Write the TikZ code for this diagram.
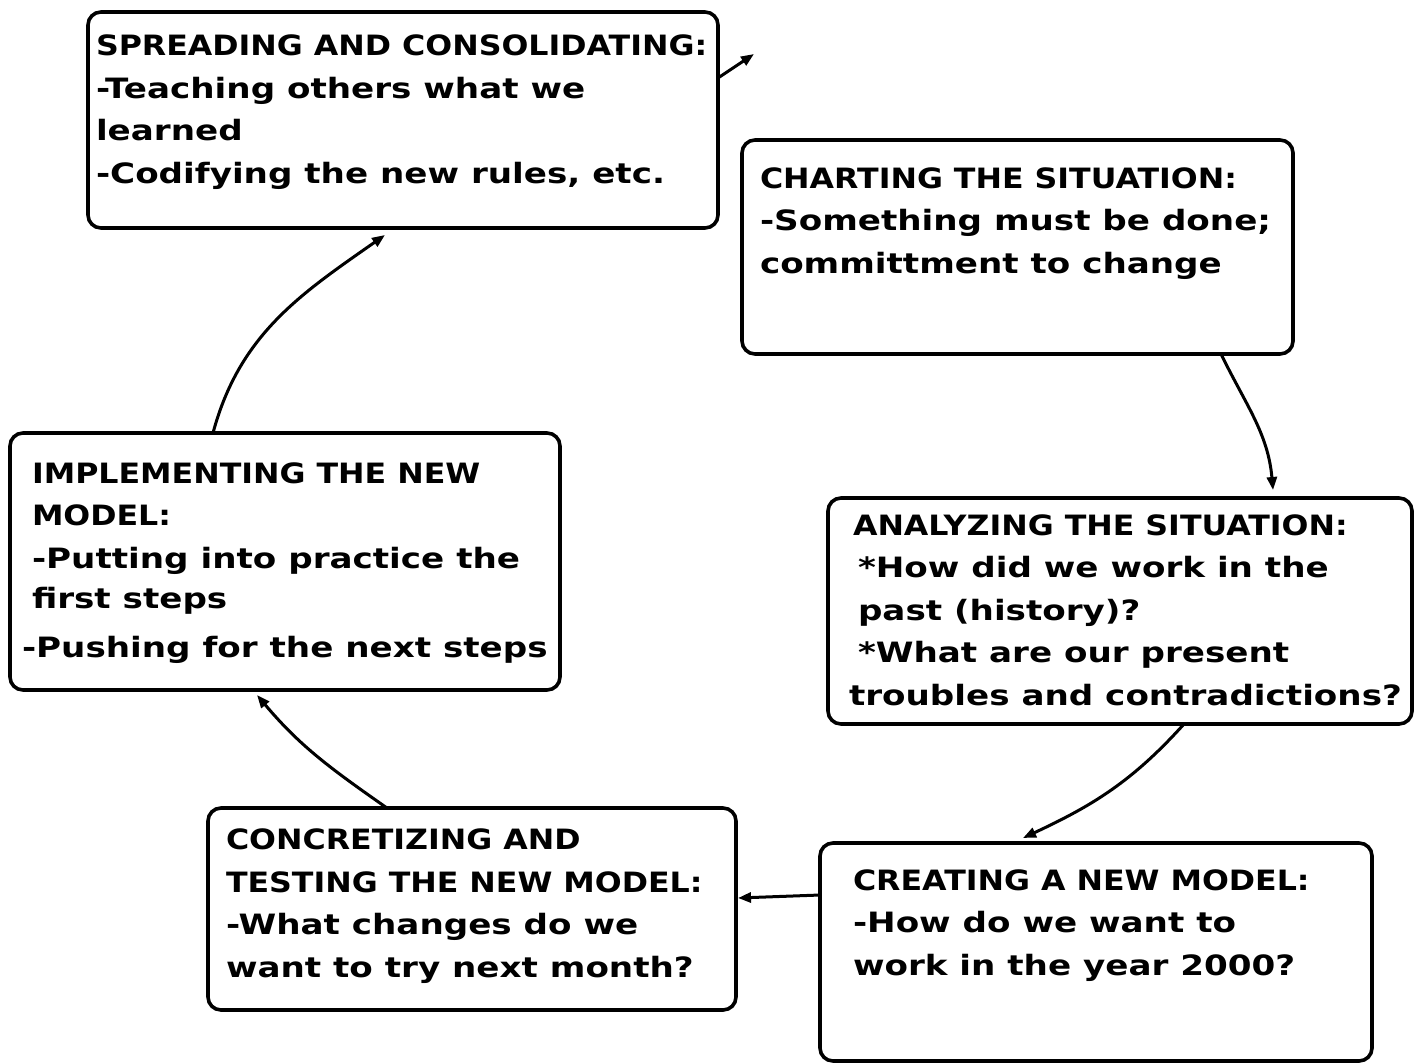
\documentclass[tikz,border=0pt]{standalone}
\usepackage{fontspec}
\setmainfont{DejaVu Sans}[FakeStretch=1.22]
\newfontfamily\capsf{DejaVu Sans}[FakeStretch=1.13]
\usetikzlibrary{arrows.meta}
\begin{document}
\begin{tikzpicture}[x=1pt,y=1pt,
  box/.style={draw=black,line width=3.6pt,rounded corners=13pt,inner sep=0pt,outer sep=0pt,anchor=north west},
  txt/.style={anchor=base west,inner sep=0pt,outer sep=0pt,align=left,
    font={\fontsize{28}{42.5}\selectfont\bfseries}},
  conn/.style={line width=3pt,-{Triangle[length=13pt,width=10pt]}}]
\useasboundingbox (0,0) rectangle (1418,-1063);
\fill[white] (0,0) rectangle (1418,-1063);
% boxes
\node[box,minimum width=630pt,minimum height=216pt] (A) at (88,-12) {};
\node[box,minimum width=551pt,minimum height=214pt] (B) at (742,-140) {};
\node[box,minimum width=584pt,minimum height=226pt] (C) at (828,-498) {};
\node[box,minimum width=552pt,minimum height=218pt] (D) at (820,-843) {};
\node[box,minimum width=528pt,minimum height=202pt] (E) at (208,-808) {};
\node[box,minimum width=550pt,minimum height=257pt] (F) at (10,-433) {};
% texts (anchored at the baseline of the last line)
\node[txt] (At) at (96,-183) {{\capsf\bfseries SPREADING AND CONSOLIDATING:}\\-Teaching others what we\\learned\\-Codifying the new rules, etc.};
\node[txt] (Bt) at (760,-273) {{\capsf\bfseries CHARTING THE SITUATION:}\\-Something must be done;\\committment to change};
\node[txt] (Ct) at (849,-705) {\hspace*{4pt}{\capsf\bfseries ANALYZING THE SITUATION:}\\\hspace*{9pt}*How did we work in the\\\hspace*{9pt}past (history)?\\\hspace*{9pt}*What are our present\\troubles and contradictions?};
\node[txt] (Dt) at (853,-975) {{\capsf\bfseries CREATING A NEW MODEL:}\\-How do we want to\\work in the year 2000?};
\node[txt] (Et) at (226,-977) {{\capsf\bfseries CONCRETIZING AND}\\{\capsf\bfseries TESTING THE NEW MODEL:}\\-What changes do we\\want to try next month?};
\node[txt] (Ft) at (22,-657) {\hspace*{10pt}{\capsf\bfseries IMPLEMENTING THE NEW}\\\hspace*{10pt}{\capsf\bfseries MODEL:}\\\hspace*{10pt}-Putting into practice the\\[-2.5pt]\hspace*{10pt}first steps\\[6.5pt]-Pushing for the next steps};
% free end
\coordinate (out) at (754,-54);
% connectors
\draw[conn] ([yshift=-66pt]A.north east) -- (out);
\draw[conn] ([xshift=479pt]B.south west) to[out=-64,in=95] ([xshift=445pt,yshift=8pt]C.north west);
\draw[conn] ([xshift=356pt]C.south west) to[out=-132,in=25] ([xshift=203pt,yshift=5pt]D.north west);
\draw[conn] ([yshift=-52pt]D.north west) -- ([xshift=2pt,yshift=-90pt]E.north east);
\draw[conn] ([xshift=179pt]E.north west) to[out=145,in=-50] ([xshift=247pt,yshift=-5pt]F.south west);
\draw[conn] ([xshift=203pt]F.north west) to[out=75,in=215] ([xshift=297pt,yshift=-7pt]A.south west);
\end{tikzpicture}
\end{document}
